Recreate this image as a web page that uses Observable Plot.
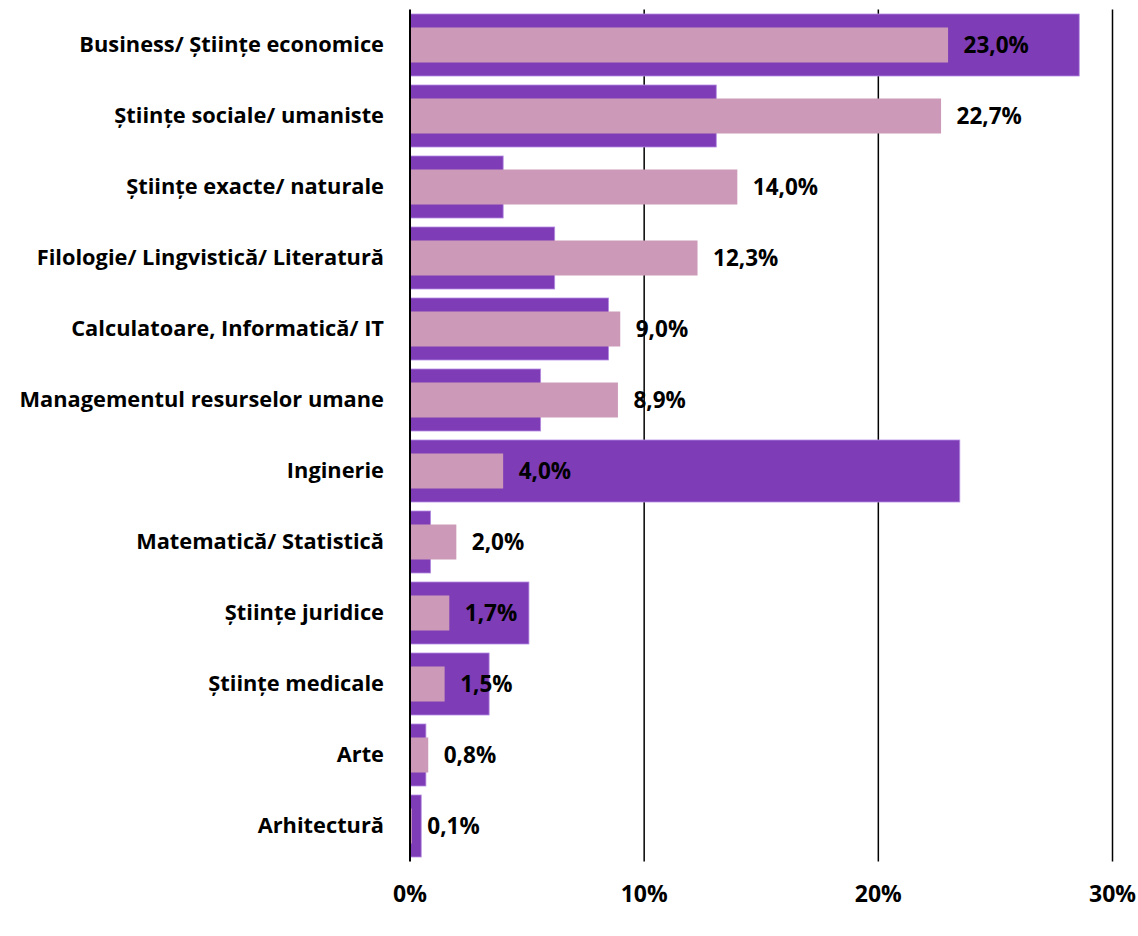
<!DOCTYPE html>
<html>
<head>
<meta charset="utf-8">
<script src="https://cdn.jsdelivr.net/npm/d3@7"></script>
<script src="https://cdn.jsdelivr.net/npm/@observablehq/plot@0.6"></script>
<style>
  html, body { margin: 0; padding: 0; background: #fff; }
</style>
</head>
<body>
<div id="chart"></div>
<script>
const categories = [
  "Business/ Științe economice",
  "Științe sociale/ umaniste",
  "Științe exacte/ naturale",
  "Filologie/ Lingvistică/ Literatură",
  "Calculatoare, Informatică/ IT",
  "Managementul resurselor umane",
  "Inginerie",
  "Matematică/ Statistică",
  "Științe juridice",
  "Științe medicale",
  "Arte",
  "Arhitectură"
];
const pinkValues = [23.0, 22.7, 14.0, 12.3, 9.0, 8.9, 4.0, 2.0, 1.7, 1.5, 0.8, 0.1];
const purpleValues = [28.6, 13.1, 4.0, 6.2, 8.5, 5.6, 23.5, 0.9, 5.1, 3.4, 0.7, 0.5];
const xTicks = [0, 10, 20, 30];
const gridTicks = [10, 20, 30];

const data = categories.map((c, i) => ({cat: c, pink: pinkValues[i], purple: purpleValues[i]}));
const fmt = v => v.toFixed(1).replace(".", ",") + "%";
const FONT = "'Open Sans', Lato, sans-serif";

const chart = Plot.plot({
  width: 1138,
  height: 936,
  marginLeft: 409.5,
  marginRight: 26,
  marginTop: 9.5,
  marginBottom: 74.5,
  style: {fontFamily: FONT, background: "#fff"},
  x: {domain: [0, 30], label: null},
  y: {domain: categories, paddingInner: 0.127, paddingOuter: 0.0635, label: null},
  marks: [
    Plot.ruleX(gridTicks, {stroke: "#000", strokeWidth: 1.5}),
    Plot.barX(data, {y: "cat", x: "purple", fill: "#7E3CB6", stroke: "#B48AE0", strokeWidth: 0.8}),
    Plot.barX(data, {y: "cat", x: "pink", fill: "#CC99B8", insetTop: 13.5, insetBottom: 13.5}),
    Plot.ruleX([0], {stroke: "#000", strokeWidth: 2}),
    Plot.text(data, {y: "cat", x: "pink", text: d => fmt(d.pink), dx: 15, textAnchor: "start",
      fontSize: 22.5, fontWeight: "bold", fill: "#000", fontFamily: FONT}),
    Plot.axisX(xTicks, {tickSize: 0, tickPadding: 24, tickFormat: d => d + "%",
      fontSize: 23, fontWeight: "bold", fill: "#000", label: null, fontFamily: FONT}),
    Plot.axisY({tickSize: 0, tickPadding: 26, fontSize: 21.8, fontWeight: "bold", fill: "#000", label: null, fontFamily: FONT})
  ]
});
document.getElementById("chart").appendChild(chart);
</script>
</body>
</html>
